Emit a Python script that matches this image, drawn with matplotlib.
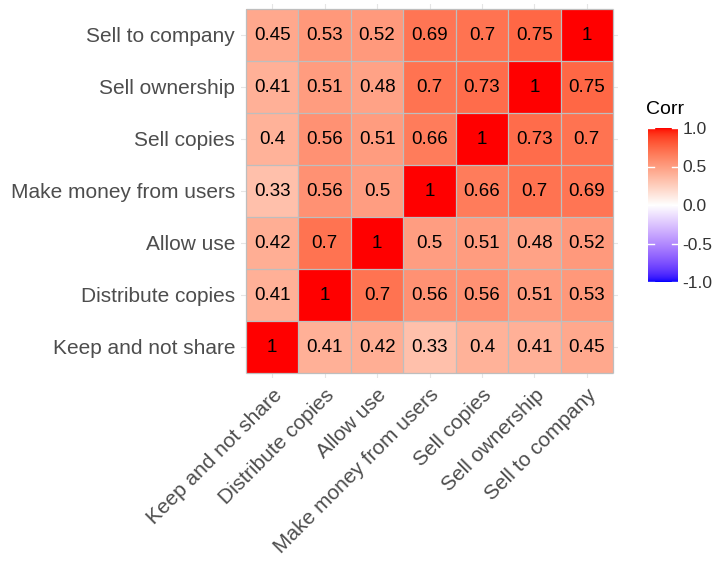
import numpy as np
import matplotlib
matplotlib.use("Agg")
import matplotlib.pyplot as plt
from matplotlib.colors import ListedColormap, Normalize

labels = ["Keep and not share", "Distribute copies", "Allow use",
          "Make money from users", "Sell copies", "Sell ownership", "Sell to company"]
r_keep = [1, 0.41, 0.42, 0.33, 0.40, 0.41, 0.45]
r_dist = [0.41, 1, 0.70, 0.56, 0.56, 0.51, 0.53]
r_allow = [0.42, 0.70, 1, 0.50, 0.51, 0.48, 0.52]
r_money = [0.33, 0.56, 0.50, 1, 0.66, 0.70, 0.69]
r_scopies = [0.40, 0.56, 0.51, 0.66, 1, 0.73, 0.70]
r_sown = [0.41, 0.51, 0.48, 0.70, 0.73, 1, 0.75]
r_scomp = [0.45, 0.53, 0.52, 0.69, 0.70, 0.75, 1]
corr = np.array([r_keep, r_dist, r_allow, r_money, r_scopies, r_sown, r_scomp])
cbar_ticks = [-1.0, -0.5, 0.0, 0.5, 1.0]

# Lab interpolation (like ggplot2 scale_fill_gradient2)
def srgb_to_lab(c):
    c = np.asarray(c, float)
    lin = np.where(c <= 0.04045, c / 12.92, ((c + 0.055) / 1.055) ** 2.4)
    M = np.array([[0.4124, 0.3576, 0.1805], [0.2126, 0.7152, 0.0722], [0.0193, 0.1192, 0.9505]])
    xyz = M @ lin
    xyz = xyz / np.array([0.95047, 1.0, 1.08883])
    f = np.where(xyz > 0.008856, np.cbrt(xyz), 7.787 * xyz + 16 / 116)
    return np.array([116 * f[1] - 16, 500 * (f[0] - f[1]), 200 * (f[1] - f[2])])

def lab_to_srgb(lab):
    L, a, b = lab
    fy = (L + 16) / 116
    fx = fy + a / 500
    fz = fy - b / 200
    f = np.array([fx, fy, fz])
    xyz = np.where(f ** 3 > 0.008856, f ** 3, (f - 16 / 116) / 7.787)
    xyz = xyz * np.array([0.95047, 1.0, 1.08883])
    Minv = np.array([[3.2406, -1.5372, -0.4986], [-0.9689, 1.8758, 0.0415], [0.0557, -0.2040, 1.0570]])
    lin = Minv @ xyz
    lin = np.clip(lin, 0, 1)
    c = np.where(lin <= 0.0031308, 12.92 * lin, 1.055 * lin ** (1 / 2.4) - 0.055)
    return np.clip(c, 0, 1)

blue = srgb_to_lab([0, 0, 1]); white = srgb_to_lab([1, 1, 1]); red = srgb_to_lab([1, 0, 0])
cols = []
for t in np.linspace(-1, 1, 512):
    if t < 0:
        lab = white + (blue - white) * (-t)
    else:
        lab = white + (red - white) * t
    cols.append(lab_to_srgb(lab))
cmap = ListedColormap(cols)
norm = Normalize(-1, 1)

plt.rcParams['font.family'] = ['Liberation Sans', 'DejaVu Sans']
fig = plt.figure(figsize=(7.17, 5.63), dpi=100)

n = len(labels)
tile_l, tile_r, tile_t, tile_b = 246, 613, 9, 373
cw = (tile_r - tile_l) / n
ch = (tile_b - tile_t) / n
ex = 0.1
ax_l = tile_l - ex * cw
ax_r = tile_r + ex * cw
ax_t = tile_t - ex * ch
ax_b = tile_b + ex * ch
ax = fig.add_axes([ax_l / 717, 1 - ax_b / 563, (ax_r - ax_l) / 717, (ax_b - ax_t) / 563])

ax.set_axisbelow(True)
ax.grid(True, color="#E5E5E5", linewidth=0.8)
ax.pcolormesh(np.arange(n + 1), np.arange(n + 1), corr, cmap=cmap, norm=norm,
              edgecolors="none", antialiased=False)
edges = np.arange(n + 1)
ax.vlines(edges, 0, n, colors="#BEBEBE", linewidth=0.9, zorder=3)
ax.hlines(edges, 0, n, colors="#BEBEBE", linewidth=0.9, zorder=3)
for i in range(n):
    for j in range(n):
        v = corr[i, j]
        txt = "1" if v == 1 else ("%g" % v)
        ax.text(j + 0.5, i + 0.5, txt, ha="center", va="center", fontsize=13.5,
                color="black", zorder=4)
ax.set_xlim(-ex, n + ex); ax.set_ylim(-ex, n + ex)
ax.set_xticks(np.arange(n) + 0.5)
ax.set_yticks(np.arange(n) + 0.5)
ax.set_xticklabels(labels, rotation=45, ha="right", va="top", rotation_mode="anchor",
                   fontsize=15, color="#4D4D4D")
ax.set_yticklabels(labels, fontsize=15, color="#4D4D4D")
ax.tick_params(axis="x", length=0, pad=5)
ax.tick_params(axis="y", length=0, pad=4)
for s in ax.spines.values():
    s.set_visible(False)

cax = fig.add_axes([648 / 717, 1 - 282 / 563, 30 / 717, 154 / 563])
grad = np.linspace(-1, 1, 300).reshape(-1, 1)
cax.imshow(grad, cmap=cmap, norm=norm, aspect="auto", origin="lower", extent=[0, 1, -1, 1])
cax.set_xlim(0, 1); cax.set_ylim(-1, 1)
cax.set_xticks([])
cax.yaxis.tick_right()
cax.set_yticks(cbar_ticks)
cax.set_yticklabels(["%.1f" % t for t in cbar_ticks], fontsize=12.5, color="#333333")
cax.tick_params(axis="y", length=0, pad=3)
for t in cbar_ticks:
    cax.plot([0, 0.2], [t, t], color="white", lw=1)
    cax.plot([0.8, 1], [t, t], color="white", lw=1)
for s in cax.spines.values():
    s.set_visible(False)
fig.text(646 / 717, 1 - 110 / 563, "Corr", fontsize=14, color="black", ha="left", va="center")

fig.savefig("out.png", dpi=100)
